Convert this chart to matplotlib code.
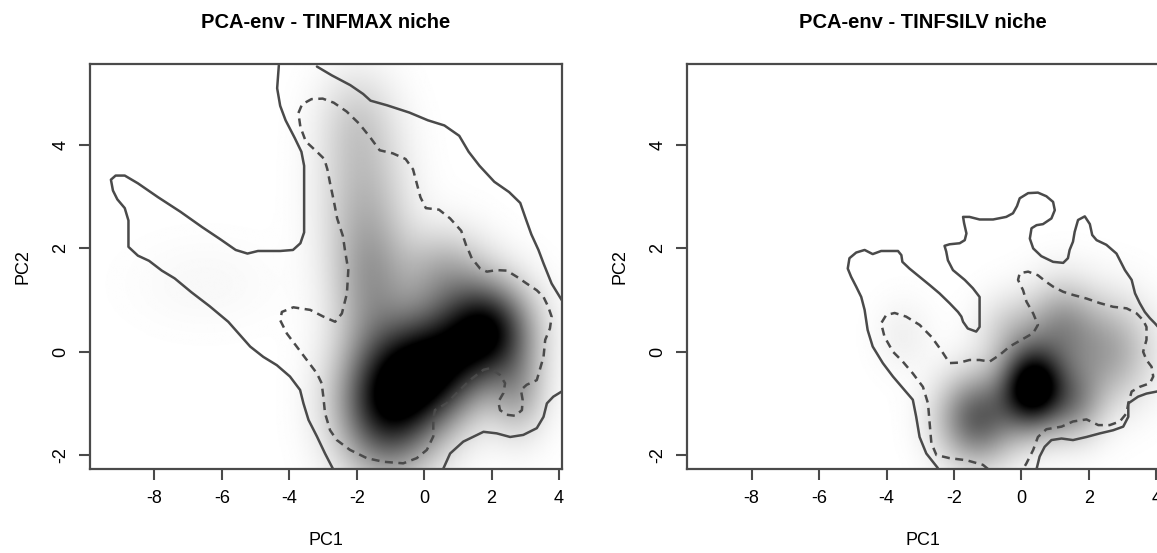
import numpy as np
import matplotlib
matplotlib.use('Agg')
from matplotlib import pyplot as plt
from matplotlib.colors import LinearSegmentedColormap

plt.rcParams['font.family'] = ['Liberation Sans', 'DejaVu Sans']
plt.rcParams['axes.unicode_minus'] = False

# ---- TINFMAX panel: density blobs (PC1, PC2, spread, weight)
max_cx = [-1.1, 0.3, 1.9, -1.6, -1.8, -2.0, 0.6, 2.8, -6.5]
max_cy = [-1.0, -0.3, 0.4, 1.3, 3.0, 4.5, 1.5, -0.8, 1.3]
max_sx = [1.0, 1.0, 0.9, 0.8, 0.9, 0.8, 0.9, 0.6, 1.5]
max_sy = [0.9, 0.75, 0.65, 0.9, 1.0, 0.7, 0.6, 0.6, 0.6]
max_w = [1.0, 0.95, 1.0, 0.35, 0.25, 0.15, 0.3, 0.3, 0.03]

# outer (solid) contour pieces
max_outer1_x = [-4.31, -4.36, -4.27, -4.11, -3.84, -3.64, -3.56, -3.56, -3.56, -3.67, -3.89, -4.27,
                -4.93, -5.24, -5.59, -6.03, -6.58, -7.23, -7.89, -8.49, -8.88, -9.15, -9.29, -9.23,
                -9.10, -8.88, -8.77, -8.77, -8.77, -8.49, -8.16, -7.78, -7.40, -6.90, -6.36, -5.81,
                -5.16, -4.77, -4.37, -3.98, -3.68, -3.58, -3.43, -3.18, -2.94, -2.71]
max_outer1_y = [5.54, 5.10, 4.76, 4.48, 4.14, 3.87, 3.60, 2.99, 2.31, 2.10, 1.97, 1.95,
                1.95, 1.90, 1.97, 2.17, 2.41, 2.71, 2.99, 3.26, 3.41, 3.41, 3.33, 3.12,
                2.95, 2.78, 2.54, 2.31, 2.03, 1.86, 1.76, 1.57, 1.42, 1.15, 0.88, 0.58,
                0.10, -0.10, -0.26, -0.48, -0.74, -1.00, -1.32, -1.64, -1.97, -2.26]
max_outer2_x = [-3.18, -2.74, -2.19, -1.81, -1.59, -1.10, -0.44, 0.11, 0.60, 1.04, 1.32, 1.64,
                2.08, 2.52, 2.85, 3.01, 3.18, 3.39, 3.54, 3.78, 4.08]
max_outer2_y = [5.52, 5.35, 5.16, 4.99, 4.86, 4.77, 4.63, 4.48, 4.38, 4.18, 3.87, 3.60,
                3.29, 3.09, 2.88, 2.58, 2.27, 1.97, 1.71, 1.32, 1.00]
max_outer3_x = [0.57, 0.77, 1.16, 1.76, 2.15, 2.55, 2.94, 3.34, 3.54, 3.64, 3.83, 4.08]
max_outer3_y = [-2.26, -1.97, -1.74, -1.55, -1.58, -1.65, -1.61, -1.48, -1.26, -1.00, -0.87, -0.77]

# inner (dashed) contour
max_inner_x = [-2.35, -2.41, -2.58, -2.68, -2.79, -2.87, -2.96, -3.18, -3.51, -3.67, -3.73, -3.62,
               -3.34, -3.01, -2.68, -2.30, -1.92, -1.59, -1.32, -0.93, -0.55, -0.33, -0.22, -0.11,
               0.05, 0.44, 0.77, 1.10, 1.26, 1.31, 1.41, 1.66, 1.86, 2.15, 2.45, 2.75, 3.04,
               3.34, 3.54, 3.68, 3.78, 3.73, 3.59, 3.54, 3.34, 3.04, 2.87, 2.92, 2.90, 2.70,
               2.45, 2.25, 2.20, 2.35, 2.40, 2.25, 1.96, 1.76, 1.36, 0.97, 0.67, 0.32, 0.27,
               0.27, 0.08, -0.22, -0.62, -1.21, -1.70, -2.20, -2.59, -2.79, -2.94, -2.99, -3.04,
               -3.18, -3.48, -3.78, -4.07, -4.27, -4.22, -3.88, -3.38, -2.99, -2.64, -2.44, -2.29,
               -2.25, -2.35]
max_inner_y = [1.97, 2.24, 2.58, 2.92, 3.26, 3.53, 3.73, 3.87, 4.07, 4.35, 4.62, 4.79,
               4.89, 4.90, 4.82, 4.65, 4.41, 4.14, 3.90, 3.84, 3.73, 3.53, 3.26, 2.99,
               2.78, 2.75, 2.58, 2.34, 2.03, 1.97, 1.81, 1.61, 1.55, 1.58, 1.57, 1.45, 1.32,
               1.19, 1.06, 0.87, 0.68, 0.45, 0.23, -0.10, -0.55, -0.64, -0.74, -0.93, -1.13, -1.24,
               -1.22, -1.13, -0.97, -0.80, -0.61, -0.45, -0.32, -0.35, -0.55, -0.80, -1.00, -1.13, -1.32,
               -1.64, -1.90, -2.06, -2.16, -2.13, -2.06, -1.90, -1.71, -1.52, -1.19, -0.87, -0.61,
               -0.42, -0.16, 0.10, 0.35, 0.61, 0.77, 0.86, 0.81, 0.68, 0.58, 0.74, 1.13,
               1.58, 1.97]

# ---- TINFSILV panel
silv_cx = [0.35, -1.3, 2.6, 1.2, 1.6, -0.3, -3.5]
silv_cy = [-0.7, -1.3, 0.0, 0.5, -1.0, 0.4, 0.3]
silv_sx = [0.65, 0.8, 0.9, 0.7, 0.6, 0.7, 0.6]
silv_sy = [0.55, 0.6, 0.7, 0.6, 0.5, 0.5, 0.5]
silv_w = [1.0, 0.55, 0.3, 0.3, 0.3, 0.15, 0.05]

silv_outer1_x = [-2.48, -2.82, -3.02, -3.12, -3.22, -3.47, -3.81, -4.11, -4.41, -4.56, -4.65, -4.75,
                 -4.90, -5.05, -5.15, -5.10, -4.90, -4.65, -4.41, -4.16, -3.91, -3.66, -3.56, -3.53,
                 -3.32, -3.02, -2.72, -2.43, -2.13, -1.88, -1.78, -1.73, -1.59, -1.34, -1.24, -1.24,
                 -1.24, -1.44, -1.68, -2.03, -2.18, -2.23, -2.28, -2.13, -1.83, -1.68, -1.63, -1.70,
                 -1.73, -1.54, -1.24, -0.84, -0.45, -0.25, -0.13, -0.05, 0.20, 0.49, 0.74, 0.94,
                 0.99, 0.89, 0.64, 0.45, 0.30, 0.25, 0.35, 0.59, 0.94, 1.24, 1.38, 1.43, 1.53,
                 1.58, 1.68, 1.88, 2.03, 2.10, 2.23, 2.52, 2.82, 3.07, 3.27, 3.37, 3.51, 3.66,
                 3.81, 3.96, 4.30]
silv_outer1_y = [-2.25, -1.97, -1.65, -1.26, -0.93, -0.74, -0.48, -0.22, 0.10, 0.42, 0.81, 1.06,
                 1.26, 1.45, 1.61, 1.81, 1.92, 1.97, 1.89, 1.95, 1.95, 1.95, 1.87, 1.74,
                 1.61, 1.45, 1.29, 1.13, 0.94, 0.77, 0.68, 0.58, 0.45, 0.39, 0.48, 0.74,
                 1.06, 1.23, 1.39, 1.58, 1.77, 1.94, 2.05, 2.08, 2.10, 2.16, 2.29, 2.49,
                 2.61, 2.61, 2.56, 2.56, 2.61, 2.68, 2.82, 2.97, 3.07, 3.08, 3.01, 2.90,
                 2.74, 2.58, 2.47, 2.45, 2.39, 2.19, 2.00, 1.85, 1.74, 1.72, 1.81, 1.97, 2.13,
                 2.32, 2.55, 2.62, 2.47, 2.26, 2.16, 2.07, 1.90, 1.58, 1.39, 1.13, 0.94, 0.77,
                 0.65, 0.55, 0.30]
silv_outer2_x = [4.30, 4.02, 3.71, 3.46, 3.17, 3.17, 3.02, 2.72, 2.33, 1.93, 1.53, 1.19, 0.89,
                 0.69, 0.54, 0.45]
silv_outer2_y = [-0.70, -0.77, -0.81, -0.87, -1.00, -1.26, -1.45, -1.52, -1.58, -1.65, -1.71,
                 -1.68, -1.71, -1.84, -2.03, -2.27]

silv_inner_x = [-0.99, -1.14, -1.63, -2.13, -2.52, -2.67, -2.72, -2.77, -2.92, -3.22, -3.52, -3.81,
                -4.06, -4.16, -4.01, -3.76, -3.42, -3.02, -2.67, -2.38, -2.13, -1.83, -1.54, -1.24,
                -0.94, -0.64, -0.35, 0.00, 0.35, 0.49, 0.35, 0.15, 0.05, -0.10, -0.05, 0.20,
                0.49, 0.74, 0.94, 1.24, 1.53, 1.93, 2.33, 2.72, 3.12, 3.42, 3.61, 3.71, 3.71,
                3.61, 3.71, 3.86, 3.91, 3.81, 3.51, 3.27, 3.17, 3.12, 2.92, 2.62, 2.28, 1.93,
                1.53, 1.19, 0.74, 0.49, 0.35, 0.15, 0.05]
silv_inner_y = [-2.27, -2.19, -2.10, -2.06, -2.00, -1.77, -1.39, -1.00, -0.68, -0.42, -0.19, 0.00,
                0.29, 0.55, 0.71, 0.75, 0.68, 0.52, 0.29, 0.03, -0.22, -0.21, -0.16, -0.16,
                -0.19, -0.06, 0.10, 0.23, 0.36, 0.52, 0.74, 0.97, 1.19, 1.39, 1.52, 1.55,
                1.48, 1.35, 1.26, 1.16, 1.10, 1.03, 0.94, 0.87, 0.84, 0.74, 0.61, 0.48, 0.23,
                0.00, -0.16, -0.29, -0.48, -0.61, -0.68, -0.77, -1.00, -1.19, -1.35, -1.42, -1.42, -1.31,
                -1.35, -1.45, -1.50, -1.65, -1.90, -2.16, -2.27]

titles = ["PCA-env - TINFMAX niche", "PCA-env - TINFSILV niche"]
xticks = [-8, -6, -4, -2, 0, 2, 4]
yticks = [-2, 0, 2, 4]
xlim = (-9.91, 4.08)
ylim = (-2.27, 5.57)

line_col = "#4a4a4a"
greys = LinearSegmentedColormap.from_list("rgrey", ["#ffffff", "#000000"])


def density(cx, cy, sx, sy, w, gx, gy):
    z = np.zeros_like(gx)
    for a, b, c, d, e in zip(cx, cy, sx, sy, w):
        z += e * np.exp(-0.5 * (((gx - a) / c) ** 2 + ((gy - b) / d) ** 2))
    return z


gx, gy = np.meshgrid(np.linspace(xlim[0], xlim[1], 400), np.linspace(ylim[0], ylim[1], 400))

fig = plt.figure(figsize=(11.57, 5.53), dpi=100)
ax1 = fig.add_axes([0.0778, 0.1519, 0.4077, 0.7324])
ax2 = fig.add_axes([0.5940, 0.1519, 0.4077, 0.7324])

panels = [
    (ax1, (max_cx, max_cy, max_sx, max_sy, max_w), 1.1,
     [(max_outer1_x, max_outer1_y), (max_outer2_x, max_outer2_y), (max_outer3_x, max_outer3_y)],
     [(max_inner_x, max_inner_y)]),
    (ax2, (silv_cx, silv_cy, silv_sx, silv_sy, silv_w), 0.9,
     [(silv_outer1_x, silv_outer1_y), (silv_outer2_x, silv_outer2_y)],
     [(silv_inner_x, silv_inner_y)]),
]

for (ax, blobs, vmax, outers, inners), title in zip(panels, titles):
    z = density(*blobs, gx, gy)
    ax.imshow(z, extent=(xlim[0], xlim[1], ylim[0], ylim[1]), origin="lower", cmap=greys,
              vmin=0, vmax=vmax, aspect="auto", interpolation="bilinear")
    for x, y in outers:
        ax.plot(x, y, color=line_col, lw=1.8, solid_capstyle="round")
    for x, y in inners:
        ax.plot(x, y, color=line_col, lw=1.8, ls=(0, (3.2, 2.2)))
    ax.set_xlim(*xlim)
    ax.set_ylim(*ylim)
    ax.set_xticks(xticks)
    ax.set_yticks(yticks)
    ax.set_yticklabels([str(t) for t in yticks], rotation=90, va="center")
    ax.tick_params(length=8, width=1.5, color=line_col, labelsize=13, pad=7)
    for s in ax.spines.values():
        s.set_color(line_col)
        s.set_linewidth(1.6)
    ax.set_title(title, fontsize=14.5, fontweight="bold", pad=26)
    ax.set_xlabel("PC1", fontsize=13, labelpad=18)
    ax.set_ylabel("PC2", fontsize=13, labelpad=15)

fig.savefig("out.png", dpi=100)
